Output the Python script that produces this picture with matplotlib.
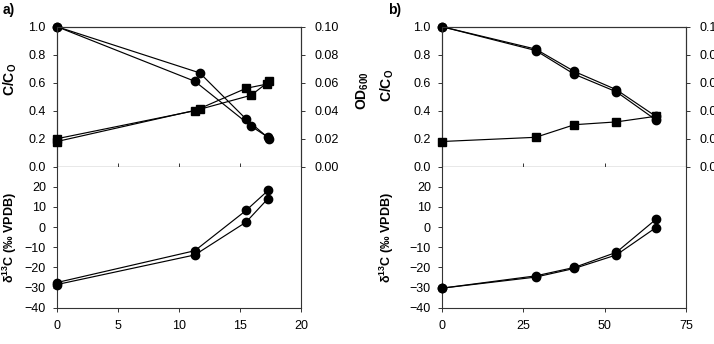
import matplotlib
matplotlib.use("Agg")
import matplotlib.pyplot as plt

plt.rcParams.update({
    "font.family": ["Liberation Sans", "DejaVu Sans"],
    "font.size": 9,
    "mathtext.fontset": "custom",
    "mathtext.rm": "Liberation Sans",
    "mathtext.bf": "Liberation Sans:bold",
    "mathtext.it": "Liberation Sans:italic",
    "axes.linewidth": 0.8,
})

# ── Data: panel a ────────────────────────────────────────────────────────────
a_t_c1 = [0, 11.7, 15.5, 17.4]
a_c1 = [1.0, 0.67, 0.34, 0.20]
a_t_c2 = [0, 11.3, 15.9, 17.3]
a_c2 = [1.0, 0.61, 0.29, 0.21]

a_t_od1 = [0, 11.3, 15.5, 17.2]
a_od1 = [0.020, 0.040, 0.056, 0.059]
a_t_od2 = [0, 11.7, 15.9, 17.4]
a_od2 = [0.018, 0.041, 0.051, 0.061]

a_t_d = [0, 11.3, 15.5, 17.3]
a_d1 = [-27.5, -11.7, 8.3, 18.2]
a_d2 = [-28.5, -13.8, 2.5, 14.2]

# ── Data: panel b ────────────────────────────────────────────────────────────
b_t = [0, 28.8, 40.7, 53.6, 65.7]
b_c1 = [1.0, 0.84, 0.68, 0.55, 0.36]
b_c2 = [1.0, 0.83, 0.66, 0.535, 0.335]
b_od = [0.018, 0.021, 0.030, 0.032, 0.036]
b_d1 = [-30.3, -24.2, -20.0, -12.5, 3.8]
b_d2 = [-30.3, -24.8, -20.5, -13.8, -0.3]

W, H = 714, 344
fig = plt.figure(figsize=(W / 100, H / 100), dpi=100, facecolor="white")

TOP, MID, BOT = 26.7, 166.7, 307.7


def fr(x0, x1, y0, y1):
    return [x0 / W, 1 - y1 / H, (x1 - x0) / W, (y1 - y0) / H]


line_kw = dict(color="black", lw=0.85)
circ = dict(marker="o", ms=6, mfc="black", mec="black")
sq = dict(marker="s", ms=5.5, mfc="black", mec="black")


def style(ax):
    for s in ax.spines.values():
        s.set_color("#333333")
    ax.tick_params(length=3, width=0.7, pad=5, colors="#333333", labelcolor="black")


def panel(x0, x1, xmax, xticks, tag, top_sets, od_sets, d_sets, lbl):
    ax = fig.add_axes(fr(x0, x1, TOP, MID))
    ax2 = ax.twinx()
    axb = fig.add_axes(fr(x0, x1, MID, BOT))
    for a in (ax, ax2, axb):
        style(a)

    for t, c in top_sets:
        ax.plot(t, c, **line_kw, **circ, zorder=3)
    for t, o in od_sets:
        ax2.plot(t, o, **line_kw, **sq, zorder=3)
    for t, d in d_sets:
        axb.plot(t, d, **line_kw, **circ, clip_on=False, zorder=3)

    ax.set_xlim(0, xmax)
    ax.set_ylim(0, 1.0)
    ax.set_yticks([0, 0.2, 0.4, 0.6, 0.8, 1.0])
    ax.set_yticklabels(["0.0", "0.2", "0.4", "0.6", "0.8", "1.0"])
    ax.set_xticks(xticks)
    ax.tick_params(axis="x", labelbottom=False, direction="in")
    ax2.set_ylim(0, 0.10)
    ax2.set_yticks([0, 0.02, 0.04, 0.06, 0.08, 0.10])
    ax2.set_yticklabels(["0.00", "0.02", "0.04", "0.06", "0.08", "0.10"])
    ax2.tick_params(axis="y", pad=7)
    for a in (ax, ax2):
        for p in a.lines:
            p.set_clip_on(False)

    axb.set_xlim(0, xmax)
    axb.set_ylim(-40, 30)
    axb.set_yticks([-40, -30, -20, -10, 0, 10, 20])
    axb.set_xticks(xticks)
    axb.spines["top"].set_visible(False)
    axb.tick_params(axis="x", pad=6)

    ax.set_ylabel(r"$\mathbf{C/C_O}$", fontsize=10)
    ax.yaxis.set_label_coords(lbl[0], lbl[2])
    ax2.set_ylabel(r"$\mathbf{OD_{600}}$", fontsize=10, rotation=90)
    ax2.yaxis.set_label_coords(lbl[1], 0.54)
    axb.set_ylabel(r"$\mathbf{\delta^{13}C}$ (‰ VPDB)", fontsize=9, fontweight="bold")
    axb.yaxis.set_label_coords(lbl[0], 0.5)

    fig.text((x0 - 54) / W, 1 - 10 / H, tag, fontsize=10, fontweight="bold",
             ha="left", va="center")


panel(57, 301, 20, [0, 5, 10, 15, 20], "a)",
      [(a_t_c1, a_c1), (a_t_c2, a_c2)],
      [(a_t_od1, a_od1), (a_t_od2, a_od2)],
      [(a_t_d, a_d1), (a_t_d, a_d2)],
      (-0.155, 1.22, 0.62))

panel(442, 686, 75, [0, 25, 50, 75], "b)",
      [(b_t, b_c1), (b_t, b_c2)],
      [(b_t, b_od)],
      [(b_t, b_d1), (b_t, b_d2)],
      (-0.19, 1.22, 0.58))

fig.savefig("out.png", dpi=100, facecolor="white")
